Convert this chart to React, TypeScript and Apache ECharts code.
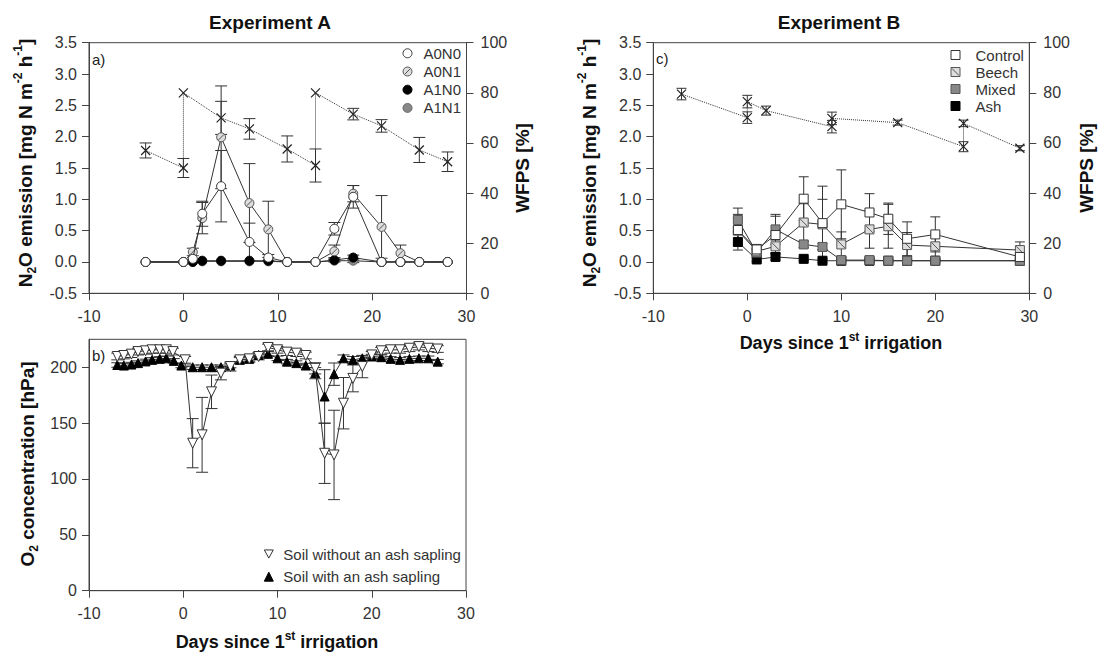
import React, { useEffect, useRef } from "react";
import * as echarts from "echarts";

// ---------- Panel a: Experiment A, N2O emission ----------
const daysA = [-4, 0, 1, 2, 4, 7, 9, 11, 14, 16, 18, 21, 23, 25, 28];
const a0n0 = [0, 0, 0.05, 0.77, 1.21, 0.32, 0.07, 0, 0, 0.53, 1.04, 0, 0, 0, 0];
const a0n0Err = [0, 0, 0, 0.2, 0.57, 0.3, 0.05, 0, 0, 0.1, 0.18, 0, 0, 0, 0];
const a0n1 = [0, 0, 0.16, 0.7, 1.99, 0.94, 0.52, 0, 0, 0.17, 1.09, 0.56, 0.14, 0, 0];
const a0n1Err = [0, 0, 0.06, 0.25, 0.82, 0.63, 0.45, 0, 0, 0.1, 0.13, 0.5, 0.13, 0, 0];
const a1n0 = [0, 0, 0, 0.02, 0.02, 0.02, 0.02, 0, 0, 0.03, 0.07, 0, 0, 0, 0];
const a1n0Err = [0, 0, 0, 0, 0, 0, 0, 0, 0, 0.02, 0.04, 0, 0, 0, 0];
const a1n1 = [0, 0, 0, 0.01, 0.01, 0.01, 0.01, 0, 0, 0.02, 0.02, 0, 0, 0, 0];
const a1n1Err = [0, 0, 0, 0, 0, 0, 0, 0, 0, 0.02, 0.03, 0, 0, 0, 0];

// WFPS, Experiment A
const wfpsADays = [-4, 0, 0, 4, 7, 11, 14, 14, 18, 21, 25, 28];
const wfpsA = [57, 50, 80, 70, 65.6, 57.6, 51, 80, 71.5, 66.8, 57.2, 52.5];
const wfpsAErr = [3, 3.8, 0, 6.6, 4.1, 5.2, 6.6, 0, 2.3, 2.5, 5, 3.9];

// ---------- Panel b: O2 concentration ----------
const daysOpen = [-7, -6.3, -5.5, -4.8, -4, -3.3, -2.5, -1.8, -1.1, 0.2, 1, 2, 3, 4, 5, 6, 7, 8, 9, 10, 11, 12, 13, 14, 15, 16, 17, 18, 19, 20, 21, 22, 23, 24, 25, 26, 27];
const o2Without = [209.6, 210.5, 211.7, 214, 214.7, 215.6, 215.6, 215.6, 214, 206.6, 132, 139.5, 178, 194.7, 200.6, 206.6, 207.5, 209.6, 217.7, 215.6, 213.5, 212.6, 210.5, 199, 123, 121.5, 167.8, 190, 200.6, 211, 214.7, 215.6, 215.6, 217, 218.5, 217, 216.3];
const o2WithoutErr = [3, 3, 3, 3, 3, 3, 3, 3, 3, 3, 22, 33.5, 15, 6, 4, 3, 3, 3, 3, 3, 3, 3, 3, 5, 27, 40, 23, 12, 10, 3, 3, 3, 3, 3, 3, 3, 3];
const daysFilled = [-7, -6.3, -5.5, -4.8, -4, -3.3, -2.5, -1.8, -1, -0.2, 1, 2, 3, 4, 5, 6, 7, 8, 9, 10, 11, 12, 13, 14, 15, 16, 17, 18, 19, 20, 21, 22, 23, 24, 25, 26, 27];
const o2With = [202, 201.5, 202.4, 203.7, 205.2, 206.6, 207.5, 208, 205.7, 201.5, 200, 200, 200, 200, 201.5, 206.6, 207.5, 211, 212, 208, 205, 203.7, 201.5, 194.7, 173.8, 193.8, 208, 206.6, 208, 209.6, 209, 207.5, 206.6, 207.5, 208, 208, 205];
const o2WithErr = [2, 2, 2, 2, 2, 2, 2, 2, 2, 2, 2, 2, 2, 2, 2, 2, 2, 2, 2, 2, 2, 2, 2, 5, 24, 10, 3, 3, 2, 2, 2, 2, 2, 2, 2, 2, 2];

// ---------- Panel c: Experiment B ----------
const daysC = [-1, 1, 3, 6, 8, 10, 13, 15, 17, 20, 29];
const control = [0.51, 0.2, 0.43, 1.01, 0.62, 0.92, 0.79, 0.69, 0.37, 0.44, 0.08];
const controlErr = [0.25, 0.08, 0.3, 0.35, 0.59, 0.55, 0.3, 0.25, 0.27, 0.28, 0.12];
const beech = [0.5, 0.17, 0.25, 0.63, 0.6, 0.28, 0.52, 0.57, 0.27, 0.25, 0.19];
const beechErr = [0.2, 0.05, 0.1, 0.3, 0.4, 0.2, 0.3, 0.35, 0.2, 0.2, 0.13];
const mixed = [0.67, 0.15, 0.52, 0.28, 0.24, 0.03, 0.03, 0.02, 0.02, 0.02, 0.02];
const mixedErr = [0.19, 0.05, 0.24, 0.05, 0.05, 0.02, 0.02, 0.02, 0.02, 0.02, 0.02];
const ash = [0.32, 0.04, 0.08, 0.05, 0.02, 0.02, 0.02, 0.02, 0.02, 0.02, 0.02];
const ashErr = [0.13, 0.03, 0.05, 0.03, 0.03, 0.02, 0.02, 0.02, 0.02, 0.02, 0.02];

const wfpsCDays = [-7, 0, 0, 2, 9, 9, 16, 23, 23, 29];
const wfpsC = [79.5, 70.1, 76.5, 72.9, 66.5, 69.8, 68.1, 58.5, 67.8, 57.9];
const wfpsCErr = [2.3, 2.3, 2.5, 1.8, 2.5, 2.5, 1, 2, 1.3, 1];

const xTicks = [-10, 0, 10, 20, 30];

const FONT = "'Liberation Sans', Arial, Helvetica, sans-serif";
const INK = "#333";

const HATCH_CIRCLE = "path://M10,5A5,5,0,1,1,0,5A5,5,0,1,1,10,5Z M1.8,8.2L8.2,1.8";
const HATCH_SQUARE = "path://M0,0L10,0L10,10L0,10Z M1,1L9,9";
const X_MARK = "path://M0,0L10,10 M10,0L0,10";
const TRI_DOWN = "path://M0,0L10,0L5,9Z";

function pairs(xs: number[], ys: number[]) {
  return xs.map((x, i) => [x, ys[i]]);
}

function errSeries(xs: number[], ys: number[], errs: number[], xi: number, yi: number, cap: number, color: string) {
  const data: number[][] = [];
  xs.forEach((x, i) => {
    if (errs[i] > 0) data.push([x, ys[i] - errs[i], ys[i] + errs[i]]);
  });
  return {
    type: "custom",
    xAxisIndex: xi,
    yAxisIndex: yi,
    data,
    z: 1,
    silent: true,
    encode: { x: 0, y: [1, 2] },
    renderItem: (params: any, api: any) => {
      const x = api.value(0);
      const lo = api.value(1);
      const hi = api.value(2);
      const p1 = api.coord([x, hi]);
      const p2 = api.coord([x, lo]);
      const style = { stroke: color, lineWidth: 1, fill: "none" };
      return {
        type: "group",
        children: [
          { type: "line", shape: { x1: p1[0], y1: p1[1], x2: p2[0], y2: p2[1] }, style },
          { type: "line", shape: { x1: p1[0] - cap, y1: p1[1], x2: p1[0] + cap, y2: p1[1] }, style },
          { type: "line", shape: { x1: p2[0] - cap, y1: p2[1], x2: p2[0] + cap, y2: p2[1] }, style },
        ],
      };
    },
  };
}

function lineSeries(name: string, xs: number[], ys: number[], xi: number, yi: number, symbol: string, size: number, fill: string, z: number, extra: any = {}) {
  return {
    name,
    type: "line",
    xAxisIndex: xi,
    yAxisIndex: yi,
    data: pairs(xs, ys),
    symbol,
    symbolSize: size,
    showSymbol: true,
    z,
    silent: true,
    itemStyle: { color: fill, borderColor: INK, borderWidth: 1, opacity: 1 },
    lineStyle: { color: INK, width: 1 },
    ...extra,
  };
}

function xAxisCfg(gridIndex: number) {
  return {
    type: "value",
    gridIndex,
    min: -10,
    max: 30,
    interval: 10,
    axisLine: { show: true, onZero: false, lineStyle: { color: "#444", width: 1 } },
    axisTick: { show: true, inside: false, length: 7, lineStyle: { color: "#444" } },
    axisLabel: { fontSize: 16, color: INK, fontFamily: FONT, margin: 15, formatter: (v: number) => (xTicks.includes(v) ? String(v) : "") },
    splitLine: { show: false },
  };
}

function yAxisCfg(gridIndex: number, min: number, max: number, interval: number, position: string, fmt: (v: number) => string, margin: number) {
  return {
    type: "value",
    gridIndex,
    min,
    max,
    interval,
    position,
    axisLine: { show: true, onZero: false, lineStyle: { color: "#444", width: 1 } },
    axisTick: { show: true, inside: false, length: 7, lineStyle: { color: "#444" } },
    axisLabel: { fontSize: 16, color: INK, fontFamily: FONT, margin, formatter: fmt, showMaxLabel: max === 225 ? false : true },
    splitLine: { show: false },
  };
}

function rotLabel(x: number, y: number, text: string, size: number) {
  return {
    type: "text",
    x,
    y,
    rotation: Math.PI / 2,
    style: {
      text,
      textAlign: "center",
      textVerticalAlign: "middle",
      rich: {
        m: { fontSize: size, fontWeight: "bold", fontFamily: FONT, fill: "#111", lineHeight: 26 },
        s: { fontSize: 12, fontWeight: "bold", fontFamily: FONT, fill: "#111", lineHeight: 12, verticalAlign: "bottom" },
        p: { fontSize: 12, fontWeight: "bold", fontFamily: FONT, fill: "#111", lineHeight: 12, verticalAlign: "top" },
      },
    },
  };
}

function plainText(x: number, y: number, text: string, size: number, bold: boolean, align = "left") {
  return {
    type: "text",
    x,
    y,
    style: { text, fontSize: size, fontWeight: bold ? "bold" : "normal", fontFamily: FONT, fill: bold ? "#111" : "#222", textAlign: align, textVerticalAlign: "middle" },
  };
}

function richTitle(x: number, y: number, text: string, size: number) {
  return {
    type: "text",
    x,
    y,
    style: {
      text,
      textAlign: "center",
      textVerticalAlign: "middle",
      rich: {
        m: { fontSize: size, fontWeight: "bold", fontFamily: FONT, fill: "#111", lineHeight: 24 },
        p: { fontSize: 12, fontWeight: "bold", fontFamily: FONT, fill: "#111", lineHeight: 12, verticalAlign: "top" },
      },
    },
  };
}

export default function App() {
  const ref = useRef<HTMLDivElement>(null);
  useEffect(() => {
    if (!ref.current) return;
    const chart = echarts.init(ref.current, undefined, { renderer: "svg" });
    const gridStyle = { show: true, borderColor: "#444", borderWidth: 1, backgroundColor: "transparent" };
    const f1 = (v: number) => v.toFixed(1);
    const f0 = (v: number) => String(v);

    const legendText = (pad: number) => ({ fontSize: 15, color: INK, fontFamily: FONT, padding: [0, 0, 0, pad] });

    const option: any = {
      animation: false,
      textStyle: { fontFamily: FONT },
      grid: [
        { left: 89, top: 42.7, width: 377.5, height: 250.6, ...gridStyle },
        { left: 89, top: 339.3, width: 377, height: 251.4, ...gridStyle },
        { left: 653.3, top: 42.7, width: 376, height: 250.6, ...gridStyle },
      ],
      xAxis: [xAxisCfg(0), xAxisCfg(1), xAxisCfg(2)],
      yAxis: [
        yAxisCfg(0, -0.5, 3.5, 0.5, "left", f1, 12),
        yAxisCfg(0, 0, 100, 20, "right", f0, 14),
        yAxisCfg(1, 0, 225, 50, "left", f0, 12),
        yAxisCfg(2, -0.5, 3.5, 0.5, "left", f1, 12),
        yAxisCfg(2, 0, 100, 20, "right", f0, 14),
      ],
      legend: [
        {
          left: 402.5, top: 45.8, padding: 0, orient: "vertical", itemWidth: 9, itemHeight: 9, itemGap: 3.2, selectedMode: false,
          textStyle: legendText(6.5),
          data: [
            { name: "A0N0", icon: "circle", itemStyle: { color: "#fff", borderColor: INK, borderWidth: 1 } },
            { name: "A0N1", icon: HATCH_CIRCLE, itemStyle: { color: "#ddd", borderColor: "#555", borderWidth: 1 } },
            { name: "A1N0", icon: "circle", itemStyle: { color: "#000", borderColor: "#000", borderWidth: 1 } },
            { name: "A1N1", icon: "circle", itemStyle: { color: "#888", borderColor: "#666", borderWidth: 1 } },
          ],
        },
        {
          left: 263.8, top: 546.5, padding: 0, orient: "vertical", itemWidth: 9, itemHeight: 9, itemGap: 7.7, selectedMode: false,
          textStyle: legendText(5),
          data: [
            { name: "Soil without an ash sapling", icon: TRI_DOWN, itemStyle: { color: "#fff", borderColor: INK, borderWidth: 1 } },
            { name: "Soil with an ash sapling", icon: "triangle", itemStyle: { color: "#000", borderColor: "#000", borderWidth: 1 } },
          ],
        },
        {
          left: 950.5, top: 47.5, padding: 0, orient: "vertical", itemWidth: 9, itemHeight: 9, itemGap: 2, selectedMode: false,
          textStyle: legendText(10.5),
          data: [
            { name: "Control", icon: "rect", itemStyle: { color: "#fff", borderColor: INK, borderWidth: 1 } },
            { name: "Beech", icon: HATCH_SQUARE, itemStyle: { color: "#ddd", borderColor: "#555", borderWidth: 1 } },
            { name: "Mixed", icon: "rect", itemStyle: { color: "#888", borderColor: "#555", borderWidth: 1 } },
            { name: "Ash", icon: "rect", itemStyle: { color: "#000", borderColor: "#000", borderWidth: 1 } },
          ],
        },
      ],
      series: [
        // panel a error bars
        errSeries(daysA, a0n0, a0n0Err, 0, 0, 6, "#333"),
        errSeries(daysA, a0n1, a0n1Err, 0, 0, 6, "#333"),
        errSeries(daysA, a1n0, a1n0Err, 0, 0, 6, "#333"),
        errSeries(daysA, a1n1, a1n1Err, 0, 0, 6, "#333"),
        errSeries(wfpsADays, wfpsA, wfpsAErr, 0, 1, 6, "#333"),
        // panel a lines
        lineSeries("A1N1", daysA, a1n1, 0, 0, "circle", 9, "#888", 2, { itemStyle: { color: "#888", borderColor: "#666", borderWidth: 1 } }),
        lineSeries("A1N0", daysA, a1n0, 0, 0, "circle", 9, "#000", 3, { itemStyle: { color: "#000", borderColor: "#000", borderWidth: 1 } }),
        lineSeries("A0N1", daysA, a0n1, 0, 0, HATCH_CIRCLE, 9, "#ddd", 4, { itemStyle: { color: "#ddd", borderColor: "#555", borderWidth: 1 } }),
        lineSeries("A0N0", daysA, a0n0, 0, 0, "circle", 9, "#fff", 5),
        {
          name: "WFPS A",
          type: "line",
          xAxisIndex: 0,
          yAxisIndex: 1,
          data: pairs(wfpsADays, wfpsA),
          symbol: X_MARK,
          symbolSize: 9,
          z: 3,
          silent: true,
          itemStyle: { color: "none", borderColor: "#222", borderWidth: 1.2 },
          lineStyle: { color: "#333", width: 1, type: "dotted" },
        },
        // panel b
        errSeries(daysOpen, o2Without, o2WithoutErr, 1, 2, 6, "#333"),
        errSeries(daysFilled, o2With, o2WithErr, 1, 2, 6, "#333"),
        lineSeries("Soil with an ash sapling", daysFilled, o2With, 1, 2, "triangle", 9, "#000", 3, { itemStyle: { color: "#000", borderColor: "#000", borderWidth: 1 } }),
        lineSeries("Soil without an ash sapling", daysOpen, o2Without, 1, 2, TRI_DOWN, 10, "#fff", 4),
        // panel c
        errSeries(daysC, control, controlErr, 2, 3, 5, "#333"),
        errSeries(daysC, beech, beechErr, 2, 3, 5, "#333"),
        errSeries(daysC, mixed, mixedErr, 2, 3, 5, "#333"),
        errSeries(daysC, ash, ashErr, 2, 3, 5, "#333"),
        errSeries(wfpsCDays, wfpsC, wfpsCErr, 2, 4, 5, "#333"),
        lineSeries("Ash", daysC, ash, 2, 3, "rect", 9, "#000", 2, { itemStyle: { color: "#000", borderColor: "#000", borderWidth: 1 } }),
        lineSeries("Mixed", daysC, mixed, 2, 3, "rect", 9, "#888", 3, { itemStyle: { color: "#888", borderColor: "#555", borderWidth: 1 } }),
        lineSeries("Beech", daysC, beech, 2, 3, HATCH_SQUARE, 9, "#ddd", 4, { itemStyle: { color: "#ddd", borderColor: "#555", borderWidth: 1 } }),
        lineSeries("Control", daysC, control, 2, 3, "rect", 9, "#fff", 5),
        {
          name: "WFPS B",
          type: "line",
          xAxisIndex: 2,
          yAxisIndex: 4,
          data: pairs(wfpsCDays, wfpsC),
          symbol: X_MARK,
          symbolSize: 9,
          z: 3,
          silent: true,
          itemStyle: { color: "none", borderColor: "#222", borderWidth: 1.2 },
          lineStyle: { color: "#333", width: 1, type: "dotted" },
        },
      ],
      graphic: [
        plainText(270, 22, "Experiment A", 19, true, "center"),
        plainText(839, 22, "Experiment B", 19, true, "center"),
        plainText(92, 59, "a)", 15, false),
        plainText(92, 355, "b)", 15, false),
        plainText(656, 58, "c)", 15, false),
        rotLabel(25, 163, "{m|N}{s|2}{m|O emission [mg N m}{p|-2}{m| h}{p|-1}{m|]}", 19),
        rotLabel(522, 168, "{m|WFPS [%]}", 19),
        rotLabel(27, 464, "{m|O}{s|2}{m| concentration [hPa]}", 19),
        rotLabel(589, 163, "{m|N}{s|2}{m|O emission [mg N m}{p|-2}{m| h}{p|-1}{m|]}", 19),
        rotLabel(1086, 168, "{m|WFPS [%]}", 19),
        richTitle(277, 642, "{m|Days since 1}{p|st}{m| irrigation}", 18),
        richTitle(841, 343, "{m|Days since 1}{p|st}{m| irrigation}", 18),
      ],
    };
    chart.setOption(option);
    return () => chart.dispose();
  }, []);
  return <div ref={ref} style={{ position: "fixed", left: 0, top: 0, width: 1101, height: 657, background: "#fff" }} />;
}
